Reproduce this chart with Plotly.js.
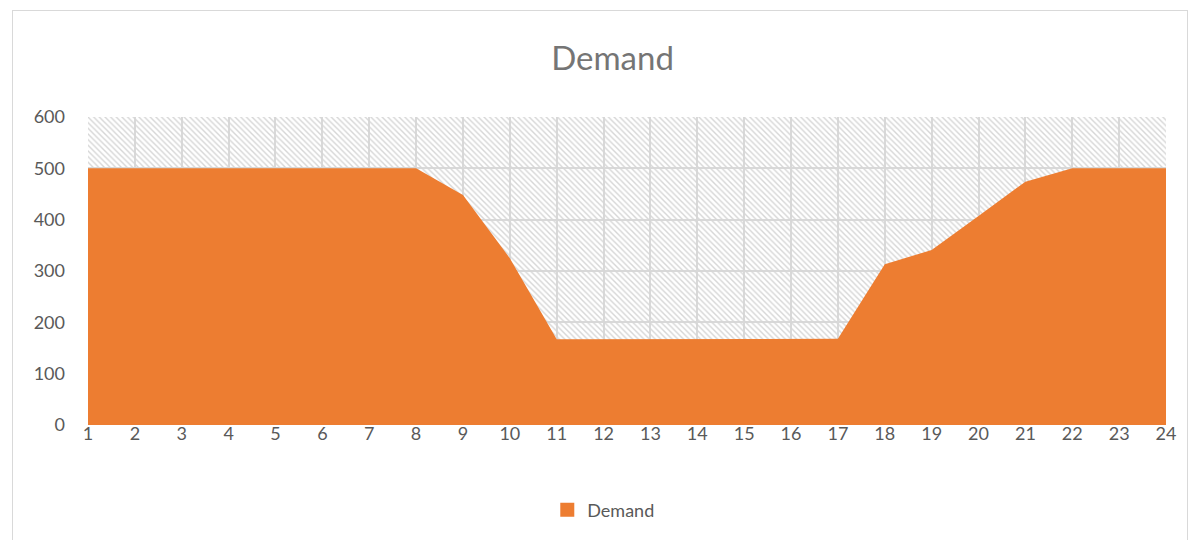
<!DOCTYPE html>
<html>
<head>
<meta charset="utf-8">
<script src="https://cdn.plot.ly/plotly-3.0.1.min.js"></script>
<style>
html,body{margin:0;padding:0;background:#fff;}
#frame{position:absolute;left:12px;top:10px;width:1176px;height:540px;border:1px solid #d9d9d9;box-sizing:border-box;}
#chart{position:absolute;left:0;top:0;width:1194px;height:540px;}
</style>
</head>
<body>
<div id="frame"></div>
<div id="chart"></div>
<script>
const hours = [1,2,3,4,5,6,7,8,9,10,11,12,13,14,15,16,17,18,19,20,21,22,23,24];
const demand = [500,500,500,500,500,500,500,500,448,325,167,167,167,167,167,167,168,313,341,407,474,500,500,500];
const capacity = [600,600,600,600,600,600,600,600,600,600,600,600,600,600,600,600,600,600,600,600,600,600,600,600];
const seriesName = 'Demand';
const chartTitle = 'Demand';

const font = 'Lato, "Open Sans", "Noto Sans", sans-serif';
const orange = '#ED7D31';

const traces = [
  {
    x: hours, y: capacity, type: 'scatter', mode: 'lines',
    fill: 'tozeroy', line: {width: 0},
    fillcolor: 'rgba(0,0,0,0)',
    fillpattern: {shape: '\\', fgcolor: '#d6d6d6', bgcolor: 'rgba(0,0,0,0)', size: 4, solidity: 0.35},
    showlegend: false, hoverinfo: 'skip'
  },
  {
    x: hours, y: demand, type: 'scatter', mode: 'lines',
    name: seriesName, fill: 'tozeroy', line: {width: 0, color: orange},
    fillcolor: orange, showlegend: false
  },
  {
    x: [null], y: [null], type: 'scatter', mode: 'markers', name: seriesName,
    marker: {symbol: 'square', size: 14, color: orange}, showlegend: true
  }
];

const layout = {
  width: 1194, height: 540,
  paper_bgcolor: 'rgba(0,0,0,0)', plot_bgcolor: 'rgba(0,0,0,0)',
  margin: {l: 88, r: 28, t: 117, b: 115},
  title: {text: chartTitle, x: 0.513, xanchor: 'center', y: 0.891, yanchor: 'middle',
          font: {family: font, size: 33, color: '#757575'}},
  font: {family: font, color: '#595959', size: 18},
  xaxis: {range: [1, 24], tickvals: hours, ticktext: hours.map(String), showgrid: true,
          gridcolor: '#d9d9d9', gridwidth: 2, zeroline: false, showline: false, ticks: '',
          ticklabelstandoff: -4,
          tickfont: {size: 18, color: '#595959'}, fixedrange: true},
  yaxis: {range: [0, 600], dtick: 100, tick0: 0, showgrid: true, gridcolor: '#d9d9d9', gridwidth: 2,
          zeroline: false, showline: false, ticks: '', ticklabelstandoff: 22,
          tickfont: {size: 18, color: '#595959'}, fixedrange: true},
  legend: {orientation: 'h', x: 0.478, xanchor: 'center', y: -0.276, yanchor: 'middle',
           font: {size: 18, color: '#595959'}, itemwidth: 30},
  showlegend: true
};

Plotly.newPlot('chart', traces, layout, {displayModeBar: false, staticPlot: true});
</script>
</body>
</html>
